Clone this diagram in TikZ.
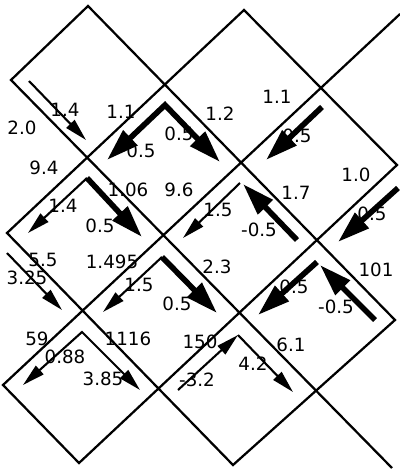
\documentclass[tikz,border=0pt]{standalone}
\usepackage{fontspec}
\setmainfont{DejaVu Sans}
\usetikzlibrary{arrows.meta}
\begin{document}
\begin{tikzpicture}[x=0.025cm,y=-0.025cm,
		gridline/.style={line width=1.6pt, line join=miter},
		thinarrow/.style={line width=1.5pt, arrows={-Triangle[length=16pt,width=8pt]}},
		thinboth/.style={line width=1.5pt, arrows={Triangle[length=16pt,width=8pt]-Triangle[length=16pt,width=8pt]}},
		thickarrow/.style={line width=4pt, arrows={-Triangle[length=23pt,width=14pt]}},
		thickboth/.style={line width=4pt, arrows={Triangle[length=23pt,width=14pt]-Triangle[length=23pt,width=14pt]}},
		val/.style={font=\fontsize{13}{15}\selectfont, inner sep=0pt}]
		\useasboundingbox (0,0) rectangle (400,470);
		
		% squares turned by 45 degrees, drawn as one zig-zag line
		\draw[gridline] (400,14) -- (3,385) -- (79,463) -- (397,165) -- (244,10) -- (7,233)
			-- (233,465) -- (395,320) -- (88,6) -- (11,80) -- (392,468);
		
		% row 1
		\draw[thinarrow] (29,81) -- (86,140);
		\draw[thickboth] (107,160) -- (165,105) -- (220,162);
		\draw[thickarrow] (322,107) -- (266,160);
		\draw[thickarrow] (398,188) -- (338,242);
		\node[val] (v20) at (22,128) {2.0};
		\node[val] (v14a) at (65,110) {1.4};
		\node[val] (v11a) at (121,112) {1.1};
		\node[val] (v05a) at (141,151) {0.5};
		\node[val] (v05b) at (179,134) {0.5};
		\node[val] (v12) at (220,114) {1.2};
		\node[val] (v11b) at (277,97) {1.1};
		\node[val] (v05c) at (297,136) {0.5};
		\node[val] (v10) at (356,175) {1.0};
		\node[val] (v05d) at (372,214) {0.5};
		
		% row 2
		\draw[thinarrow] (87,178) -- (28,233);
		\draw[thickarrow] (87,178) -- (142,237);
		\draw[thinarrow] (240,183) -- (183,238);
		\draw[thickarrow] (297,240) -- (243,184);
		\node[val] (v94) at (44,168) {9.4};
		\node[val] (v106) at (128,190) {1.06};
		\node[val] (v96) at (179,190) {9.6};
		\node[val] (v14b) at (63,206) {1.4};
		\node[val] (v05e) at (100,226) {0.5};
		\node[val] (v17) at (296,193) {1.7};
		\node[val] (v15a) at (218,210) {1.5};
		\node[val] (vm05a) at (259,230) {-0.5};
		
		% row 3
		\draw[thinarrow] (7,253) -- (62,310);
		\draw[thinarrow] (162,257) -- (103,312);
		\draw[thickarrow] (162,257) -- (217,313);
		\draw[thickarrow] (317,262) -- (258,315);
		\draw[thickarrow] (375,320) -- (320,265);
		\node[val] (v55) at (43,260) {5.5};
		\node[val] (v325) at (27,278) {3.25};
		\node[val] (v1495) at (112,262) {1.495};
		\node[val] (v15b) at (139,285) {1.5};
		\node[val] (v23) at (217,267) {2.3};
		\node[val] (v05f) at (177,304) {0.5};
		\node[val] (v101) at (376,270) {101};
		\node[val] (v05g) at (294,287) {0.5};
		\node[val] (vm05b) at (336,307) {-0.5};
		
		% row 4
		\draw[thinboth] (23,385) -- (82,332) -- (140,390);
		\draw[thinarrow] (178,390) -- (238,335);
		\draw[thinarrow] (238,335) -- (293,392);
		\node[val] (v59) at (37,339) {59};
		\node[val] (v088) at (65,357) {0.88};
		\node[val] (v1116) at (128,339) {1116};
		\node[val] (v385) at (103,379) {3.85};
		\node[val] (v150) at (200,342) {150};
		\node[val] (vm32) at (197,380) {-3.2};
		\node[val] (v42) at (253,364) {4.2};
		\node[val] (v61) at (291,345) {6.1};
	\end{tikzpicture}
\end{document}
